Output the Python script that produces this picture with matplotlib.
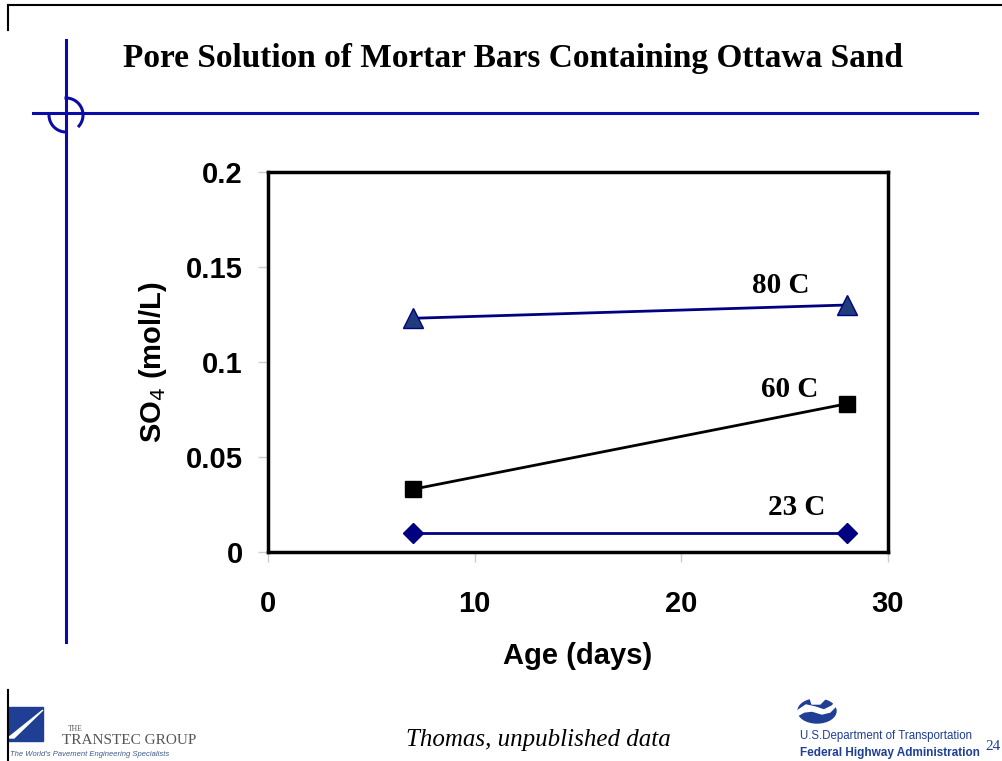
import numpy as np
import matplotlib
matplotlib.use("Agg")
import matplotlib.pyplot as plt
from matplotlib.patches import Rectangle, Polygon, Ellipse

# data
age = [7, 28]
so4_23c = [0.010, 0.010]
so4_60c = [0.033, 0.078]
so4_80c = [0.123, 0.130]
series_labels = ["23 C", "60 C", "80 C"]
xticks = [0, 10, 20, 30]
yticks = [0, 0.05, 0.1, 0.15, 0.2]
ytick_labels = ["0", "0.05", "0.1", "0.15", "0.2"]

W, H = 1003, 761
fig = plt.figure(figsize=(W / 100, H / 100), dpi=100)

# slide decoration layer in pixel coords (y axis points down)
bg = fig.add_axes([0, 0, 1, 1])
bg.set_xlim(0, W)
bg.set_ylim(H, 0)
bg.axis("off")

blue = "#0b0ba8"
bg.plot([33, 977], [113, 113], color=blue, lw=2.2)
bg.plot([66, 66], [40, 642], color=blue, lw=2.2)
# crosshair circle: upper-right and lower-left pieces (angles as seen on screen)
for a0, a1 in [(-40, 90), (180, 270)]:
    t = np.radians(np.linspace(a0, a1, 60))
    bg.plot(66 + 17 * np.cos(t), 115 - 17 * np.sin(t), color=blue, lw=2.2)
# slide frame
bg.plot([8, 1003], [5, 5], color="black", lw=1.5)
bg.plot([8, 8], [5, 30], color="black", lw=1.5)
bg.plot([8, 8], [690, 761], color="black", lw=1.5)

bg.text(513, 58, "Pore Solution of Mortar Bars Containing Ottawa Sand",
        family="Liberation Serif", weight="bold", fontsize=24,
        ha="center", va="center")

# Transtec logo
bg.add_patch(Rectangle((8, 707), 35, 34, color="#1f3f95"))
bg.add_patch(Polygon([[8, 738], [43, 710], [14, 738]], color="white"))
bg.text(68, 731, "THE", family="Liberation Serif", fontsize=5.5, color="#555555")
bg.text(62, 741, "TRANSTEC GROUP", family="Liberation Serif", fontsize=11,
        color="#555555", va="center")
bg.text(10, 755, "The World's Pavement Engineering Specialists",
        family="Liberation Sans", style="italic", fontsize=5.5,
        color="#3d5a8c", va="center")

bg.text(538, 740, "Thomas, unpublished data", family="Liberation Serif",
        style="italic", fontsize=18, ha="center", va="center")

# FHWA logo
bg.add_patch(Ellipse((817, 711), 38, 24, color="#1f3f95"))
bg.add_patch(Polygon([[797, 711], [806, 705], [815, 707], [824, 710],
                      [832, 706], [838, 700], [838, 704], [830, 712],
                      [822, 714], [812, 711], [804, 712], [797, 716]],
                     color="white"))
bg.add_patch(Polygon([[810, 698], [826, 698], [820, 704], [812, 704]],
                     color="white"))
bg.text(800, 736, "U.S.Department of Transportation", family="Liberation Sans",
        fontsize=8.3, color="#1f3f95", va="center")
bg.text(800, 753, "Federal Highway Administration", family="Liberation Sans",
        weight="bold", fontsize=8.5, color="#1f3f95", va="center")
bg.text(985, 747, "24", family="Liberation Serif", fontsize=11,
        color="#1f3f95", va="center")

# chart
ax = fig.add_axes([268 / W, 1 - 552 / H, 620 / W, 380 / H])
ax.plot(age, so4_80c, color="#000080", lw=2, marker="^", ms=14,
        mfc="#1f3d7a", mec="#000080", zorder=3)
ax.plot(age, so4_60c, color="black", lw=2, marker="s", ms=12,
        mfc="black", mec="black", zorder=3)
ax.plot(age, so4_23c, color="#000080", lw=2, marker="D", ms=10,
        mfc="#000080", mec="#000080", zorder=3)

ax.text(24.8, 0.1405, series_labels[2], family="Liberation Serif",
        weight="bold", fontsize=21, ha="center", va="center")
ax.text(25.25, 0.0853, series_labels[1], family="Liberation Serif",
        weight="bold", fontsize=21, ha="center", va="center")
ax.text(25.6, 0.0232, series_labels[0], family="Liberation Serif",
        weight="bold", fontsize=21, ha="center", va="center")

ax.set_xlim(0, 30)
ax.set_ylim(0, 0.2)
ax.set_xticks(xticks)
ax.set_yticks(yticks)
ax.set_yticklabels(ytick_labels)
for s in ax.spines.values():
    s.set_linewidth(2.5)
ax.tick_params(direction="out", length=7, width=1, color="#cccccc")
for lab in ax.get_xticklabels() + ax.get_yticklabels():
    lab.set_family("Liberation Sans")
    lab.set_weight("bold")
    lab.set_fontsize(21)
ax.tick_params(axis="y", pad=11)
ax.tick_params(axis="x", pad=20)

ax.set_xlabel("Age (days)", family="Liberation Sans", weight="bold",
              fontsize=21, labelpad=18)
ax.set_ylabel("SO$_4$ (mol/L)", family="Liberation Sans", weight="bold",
              fontsize=21, labelpad=12)

fig.savefig("out.png", dpi=100)
